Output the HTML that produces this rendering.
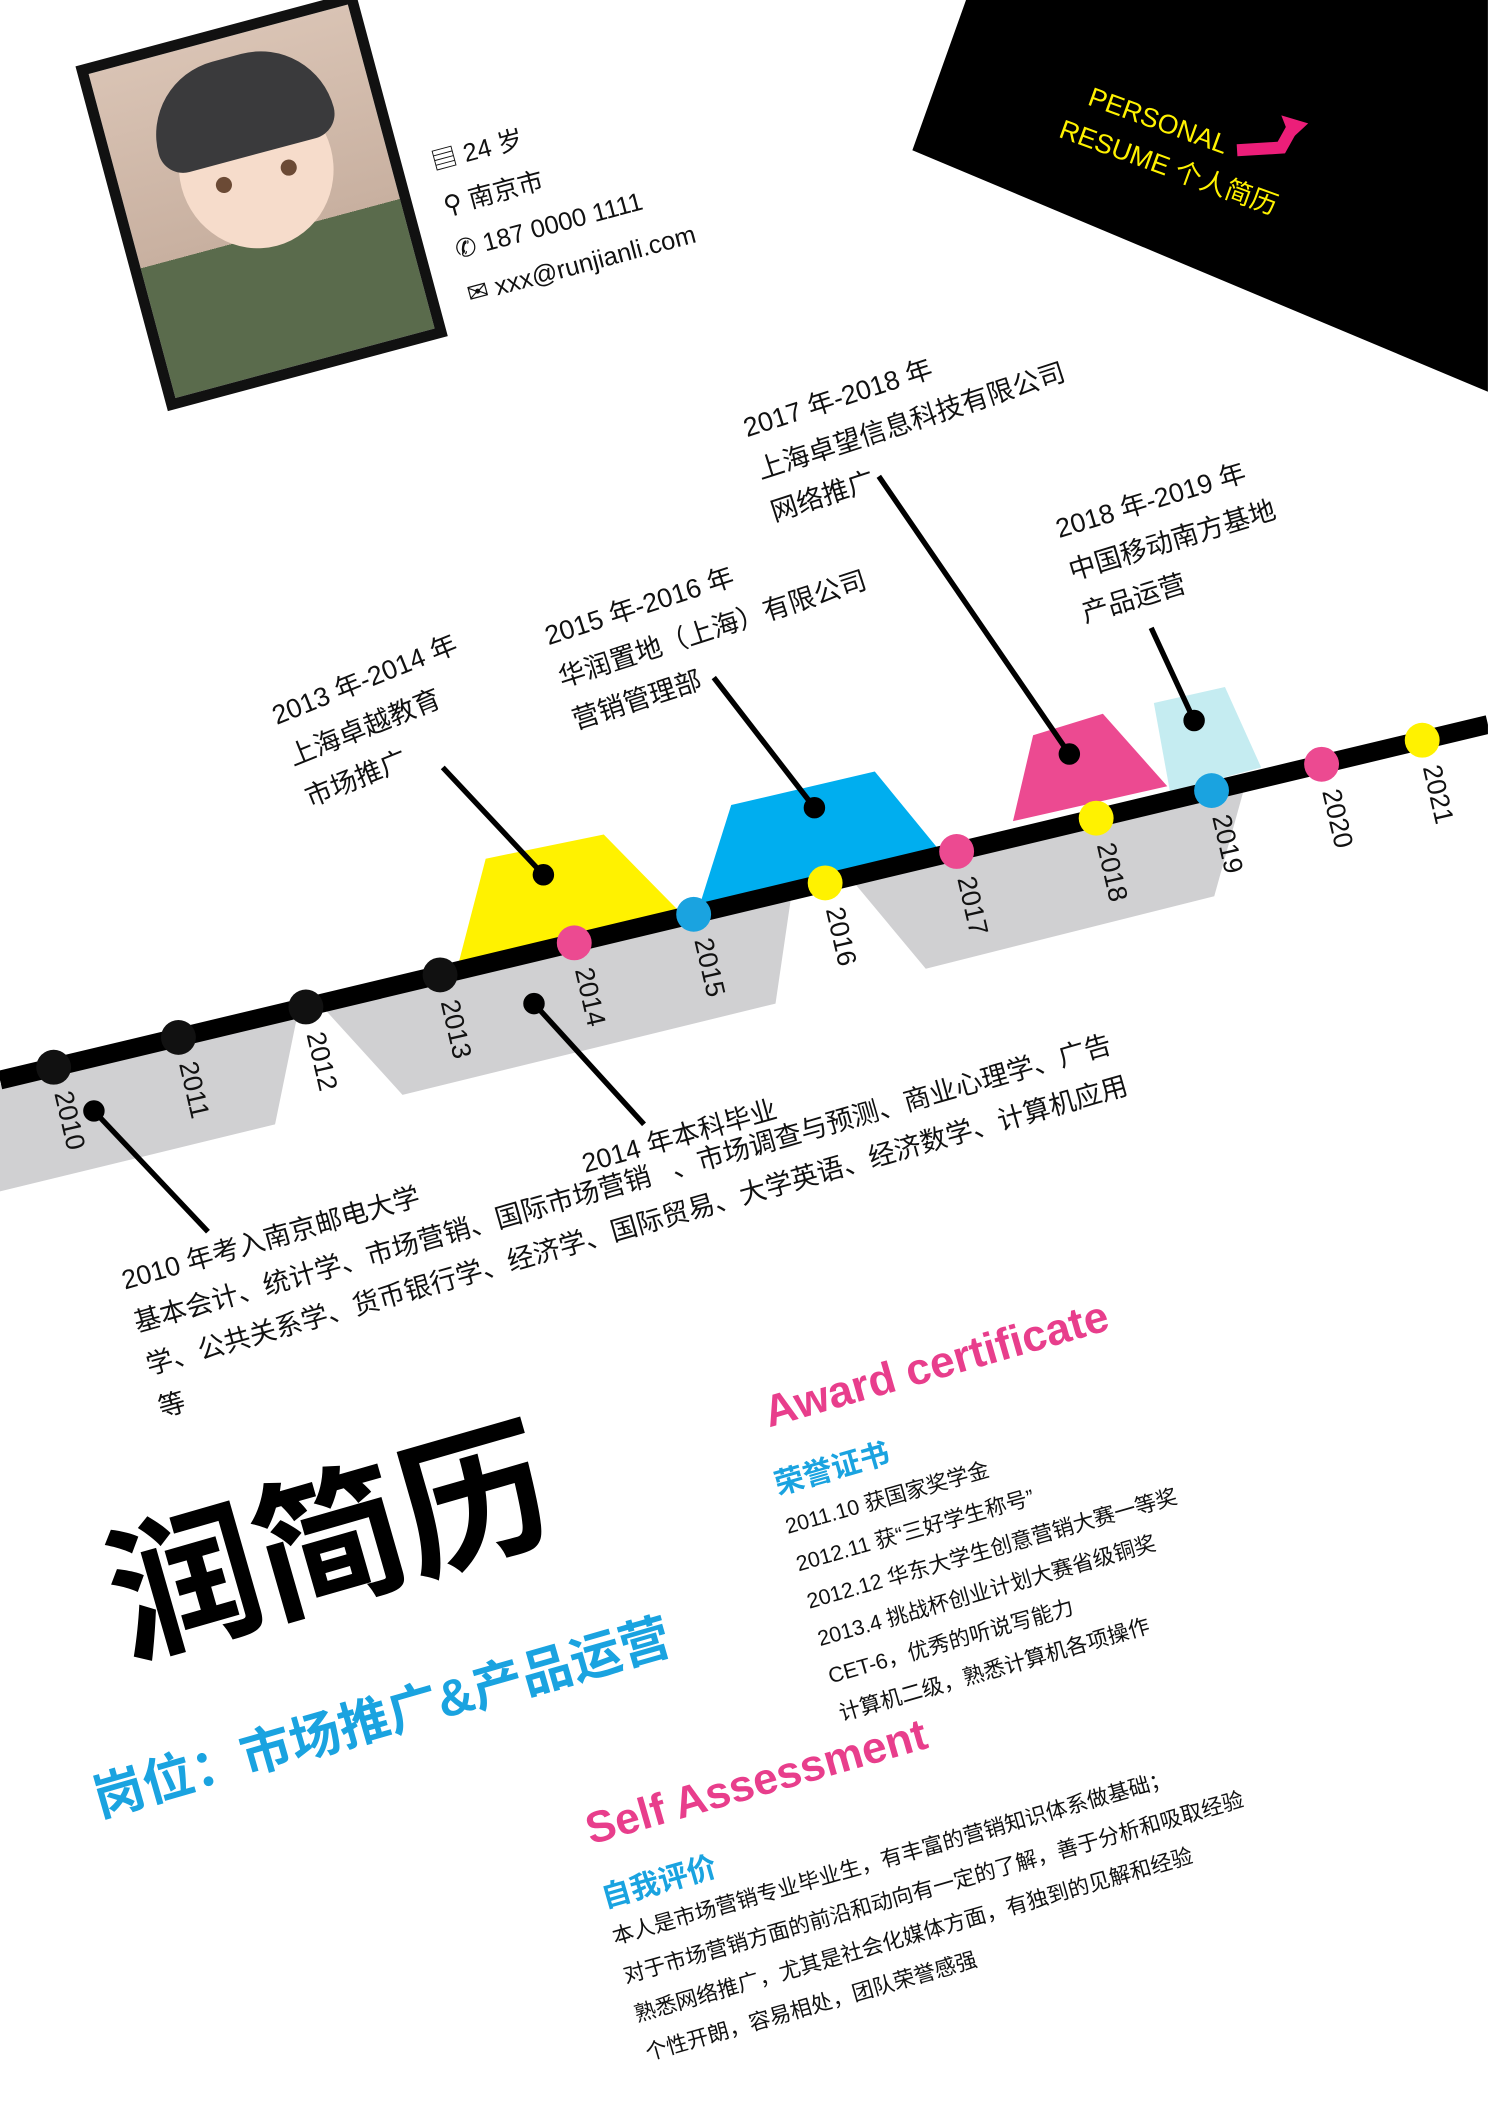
<!DOCTYPE html>
<html><head><meta charset="utf-8">
<style>
html,body{margin:0;padding:0;background:#fff;}
#page{position:relative;width:1109px;height:1568px;transform:scale(1.3417);transform-origin:0 0;overflow:hidden;font-family:"Liberation Sans","Noto Sans CJK SC",sans-serif;color:#111;}
.r{position:absolute;transform-origin:0 0;transform:rotate(-16deg);white-space:nowrap;}
.tb{font-size:20px;line-height:33px;}
.b{font-weight:bold;}
</style></head><body>
<div id="page">
<svg width="1109" height="1568" style="position:absolute;left:0;top:0">
  <polygon points="720,0 1109,0 1109,292 680,112" fill="#000"/>
  <g fill="#d0d0d2">
    <polygon points="0,808 222,755 205,838 0,888"/>
    <polygon points="240,750 590,666 578,748 300,816"/>
    <polygon points="630,650 930,578 905,668 690,722"/>
  </g>
  <polygon points="342,717 362,640 450,622 505,678" fill="#fff200"/>
  <polygon points="522,673 545,600 652,575 702,636" fill="#00aeef"/>
  <polygon points="755,612 770,548 822,532 870,586" fill="#ec4a91"/>
  <polygon points="860,524 913,512 940,572 872,590" fill="#c5ecf1"/>
  <line x1="0" y1="805" x2="1109" y2="540" stroke="#000" stroke-width="14"/>
  <g stroke="#000" stroke-width="4" fill="#000">
    <line x1="330" y1="572" x2="405" y2="652"/><circle cx="405" cy="652" r="6"/>
    <line x1="532" y1="505" x2="607" y2="602"/><circle cx="607" cy="602" r="6"/>
    <line x1="655" y1="355" x2="797" y2="562"/><circle cx="797" cy="562" r="6"/>
    <line x1="858" y1="468" x2="890" y2="537"/><circle cx="890" cy="537" r="6"/>
    <line x1="398" y1="748" x2="480" y2="838"/><circle cx="398" cy="748" r="6"/>
    <line x1="70" y1="828" x2="155" y2="918"/><circle cx="70" cy="828" r="6"/>
  </g>
  <g id="dots"></g>
  <path d="M922,112 L955,110 L965,92" fill="none" stroke="#ec1e79" stroke-width="9"/>
  <polygon points="955,86 975,92 962,104" fill="#ec1e79"/>
</svg>

<div style="position:absolute;left:87px;top:17px;width:200px;height:250px;border:8px solid #111;transform:rotate(-15deg);background:linear-gradient(#d9c3b4,#c8b0a0 60%,#5a6b4c 60%);overflow:hidden;">
  <div style="position:absolute;left:45px;top:40px;width:115px;height:120px;border-radius:50%;background:#f6dccb"></div>
  <div style="position:absolute;left:35px;top:15px;width:135px;height:75px;border-radius:60px 60px 20px 20px;background:#3a3a3c"></div>
  <div style="position:absolute;left:70px;top:100px;width:12px;height:12px;border-radius:50%;background:#6b4a35"></div>
  <div style="position:absolute;left:120px;top:100px;width:12px;height:12px;border-radius:50%;background:#6b4a35"></div>
</div>

<div class="r" style="left:318px;top:106px;font-size:19px;line-height:34px;transform:rotate(-15deg)">
  <div>▤ 24 岁</div>
  <div>⚲ 南京市</div>
  <div>✆ 187 0000 1111</div>
  <div>✉ xxx@runjianli.com</div>
</div>

<div class="r" style="left:817px;top:58px;transform:rotate(20deg);color:#fff200;font-size:20px;line-height:30px">
  <div>PERSONAL</div><div style="margin-left:-12px">RESUME 个人简历</div>
</div>

<div class="r tb" style="left:198px;top:520px;transform:rotate(-22deg)"><div>2013 年-2014 年</div><div>上海卓越教育</div><div>市场推广</div></div>
<div class="r tb" style="left:402px;top:460px;transform:rotate(-18deg)"><div>2015 年-2016 年</div><div>华润置地（上海）有限公司</div><div>营销管理部</div></div>
<div class="r tb" style="left:550px;top:305px;transform:rotate(-18deg)"><div>2017 年-2018 年</div><div>上海卓望信息科技有限公司</div><div>网络推广</div></div>
<div class="r tb" style="left:783px;top:380px;transform:rotate(-17deg)"><div>2018 年-2019 年</div><div>中国移动南方基地</div><div>产品运营</div></div>
<div class="r tb" style="left:430px;top:853px">2014 年本科毕业</div>
<div class="r tb" style="left:87px;top:940px">
  <div>2010 年考入南京邮电大学</div>
  <div>基本会计、统计学、市场营销、国际市场营销 &nbsp;&nbsp;、市场调查与预测、商业心理学、广告</div>
  <div>学、公共关系学、货币银行学、经济学、国际贸易、大学英语、经济数学、计算机应用</div>
  <div>等</div>
</div>

<div class="r b" style="left:565px;top:1035px;font-size:33px;color:#e83e8c">Award certificate</div>
<div class="r b" style="left:573px;top:1090px;font-size:22px;color:#1aa3e0">荣誉证书</div>
<div class="r" style="left:582px;top:1125px;font-size:16px;line-height:29px">
  <div>2011.10 获国家奖学金</div><div>2012.11 获“三好学生称号”</div><div>2012.12 华东大学生创意营销大赛一等奖</div><div>2013.4 挑战杯创业计划大赛省级铜奖</div><div>CET-6，优秀的听说写能力</div><div>计算机二级，熟悉计算机各项操作</div>
</div>

<div class="r b" style="left:68px;top:1140px;font-size:112px;line-height:120px;color:#000">润简历</div>
<div class="r b" style="left:62px;top:1312px;font-size:38px;color:#1aa3e0">岗位：市场推广&amp;产品运营</div>

<div class="r b" style="left:432px;top:1346px;font-size:33px;color:#e83e8c">Self Assessment</div>
<div class="r b" style="left:444px;top:1398px;font-size:22px;color:#1aa3e0">自我评价</div>
<div class="r" style="left:453px;top:1431px;font-size:16px;line-height:30px">
  <div>本人是市场营销专业毕业生，有丰富的营销知识体系做基础；</div><div>对于市场营销方面的前沿和动向有一定的了解，善于分析和吸取经验</div><div>熟悉网络推广，尤其是社会化媒体方面，有独到的见解和经验</div><div>个性开朗，容易相处，团队荣誉感强</div>
</div>
<div id="yearLabels"></div>
</div>
<script>
const years=["2010","2011","2012","2013","2014","2015","2016","2017","2018","2019","2020","2021"];
const yearX=[40,133,228,328,428,517,615,713,817,903,985,1060];
const dotColors=["#111","#111","#111","#111","#ec4a91","#1aa3e0","#fff200","#ec4a91","#fff200","#1aa3e0","#ec4a91","#fff200"];
const slope=-265/1109, y0=805;
const g=document.getElementById('dots');
const lab=document.getElementById('yearLabels');
years.forEach((yr,i)=>{
  const x=yearX[i], y=y0+slope*x;
  const c=document.createElementNS('http://www.w3.org/2000/svg','circle');
  c.setAttribute('cx',x);c.setAttribute('cy',y);c.setAttribute('r',13);c.setAttribute('fill',dotColors[i]);
  
  
  g.appendChild(c);
  const d=document.createElement('div');
  d.textContent=yr;
  d.style.cssText='position:absolute;font-size:20px;white-space:nowrap;transform-origin:0 0;transform:rotate(77deg);left:'+(x+17)+'px;top:'+(y+16)+'px';
  
  
  lab.appendChild(d);
});
</script>
</body></html>
